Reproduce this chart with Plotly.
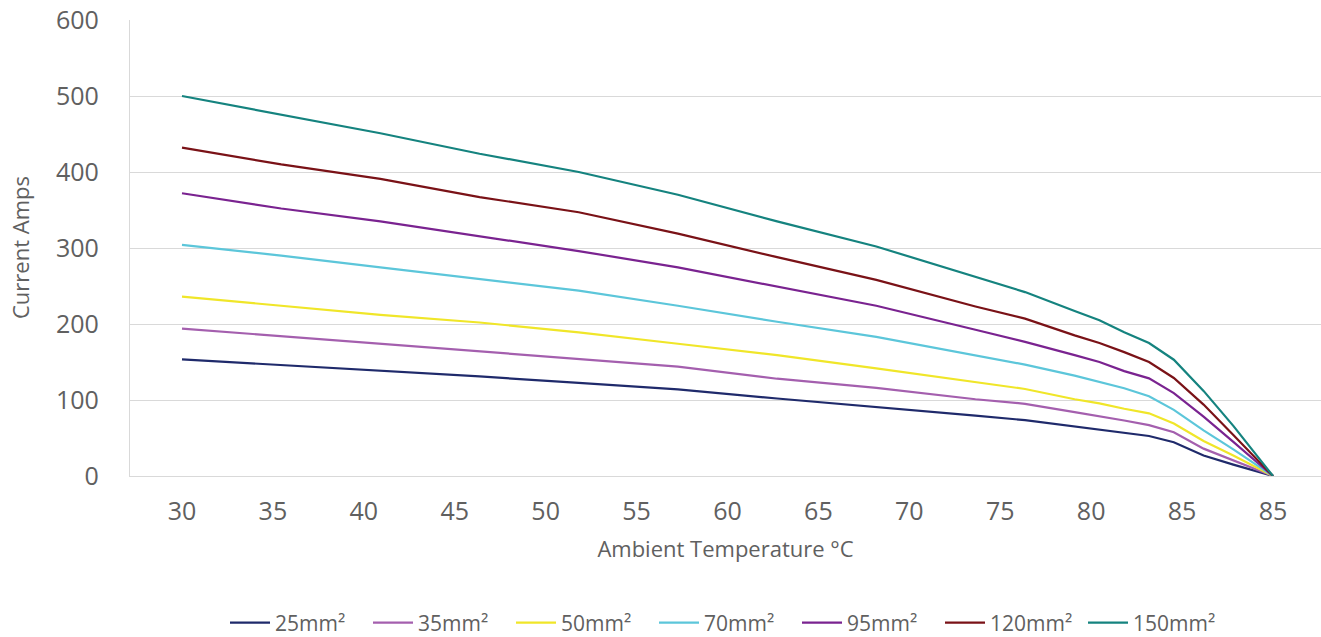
import plotly.graph_objects as go

# Ambient temperature of each reading (°C)
TEMPS = [30, 35, 40, 45, 50, 55, 60, 65, 70, 72.5, 75, 76.25, 77.5, 78.75, 80, 81.5, 83, 85]

# Current (A) per cable size
amps_25 = [153.5, 146, 138.5, 131, 122.5, 114, 102, 91, 79.5, 73.5, 65, 61, 56.5, 52.6, 44.5, 27, 15, 0]
amps_35 = [194, 184, 174, 164, 154, 144, 128, 116, 101, 95, 84, 79, 73, 67, 57.5, 36, 21, 0]
amps_50 = [236, 224, 212, 202, 189, 174, 159, 141.7, 123.5, 114.5, 101, 95.6, 88.5, 82.5, 69, 46, 27, 0]
amps_70 = [304, 290, 274.5, 259, 244, 224, 203, 183, 158, 146.5, 132, 124, 115.5, 105, 87, 60, 35, 0]
amps_95 = [372, 352, 335, 315, 296, 274.5, 249, 224, 192.5, 176.5, 159, 150, 138, 128.5, 109, 78, 45, 0]
amps_120 = [432, 410, 391, 367, 347, 319, 288, 258, 223, 207, 185, 175, 163, 150, 129, 94, 54, 0]
amps_150 = [500, 476, 451, 424, 400, 370, 335, 302, 262, 242, 217, 205, 189, 175, 153, 112, 66, 0]

SERIES_NAMES = ["25mm²", "35mm²", "50mm²", "70mm²", "95mm²", "120mm²", "150mm²"]
SERIES_VALUES = [amps_25, amps_35, amps_50, amps_70, amps_95, amps_120, amps_150]
COLORS = ["#1F2A6B", "#A45FAE", "#F0E629", "#5CC6DA", "#7A2390", "#7A1217", "#15837F"]

# Category labels shown along the x axis (as printed on the original)
TICK_LABELS = ["30", "35", "40", "45", "50", "55", "60", "65", "70", "75", "80", "85", "85"]
Y_TICKS = [0, 100, 200, 300, 400, 500, 600]

FONT = "Open Sans"
GREY = "#606060"
GRID = "#D9D9D9"

fig = go.Figure()
for name, vals, col in zip(SERIES_NAMES, SERIES_VALUES, COLORS):
    fig.add_trace(go.Scatter(
        x=TEMPS, y=vals, name=name, mode="lines",
        line=dict(color=col, width=2.2),
    ))

t0, t1 = TEMPS[0], TEMPS[-1]
n = len(TICK_LABELS) - 1
tickvals = [t0 + i * (t1 - t0) / n for i in range(n + 1)]
px_per_unit = (1273 - 182) / (t1 - t0)

W, H = 1321, 637
ML, MT, MB = 130, 20, 161
plot_h = H - MT - MB
plot_w = W - ML
x_left = t0 - 52 / px_per_unit
x_right = x_left + plot_w / px_per_unit

fig.update_layout(
    width=W, height=H,
    margin=dict(l=ML, r=0, t=MT, b=MB, autoexpand=False),
    paper_bgcolor="white", plot_bgcolor="white",
    font=dict(family=FONT, color=GREY, size=22),
    showlegend=True,
    legend=dict(
        orientation="h", x=0.5, xanchor="center", y=-(147 / plot_h), yanchor="middle",
        font=dict(size=21, color=GREY), itemwidth=40, tracegroupgap=0,
        entrywidth=88, entrywidthmode="pixels",
    ),
    xaxis=dict(
        range=[x_left, x_right],
        tickmode="array", tickvals=tickvals, ticktext=TICK_LABELS,
        showgrid=False, zeroline=False, automargin=False,
        showline=True, linecolor=GRID, linewidth=1.3,
        ticks="", ticklabelstandoff=13, ticklabeloverflow="allow",
        tickfont=dict(size=25, color=GREY),
        title=dict(text="Ambient Temperature °C", font=dict(size=22, color=GREY), standoff=15),
    ),
    yaxis=dict(
        range=[0, 600], tickmode="array", tickvals=Y_TICKS,
        showgrid=True, gridcolor=GRID, gridwidth=1.3,
        zeroline=False, showline=True, linecolor=GRID, linewidth=1.3,
        ticks="", ticklabelstandoff=25, automargin=False, ticklabeloverflow="allow",
        tickfont=dict(size=25, color=GREY),
    ),
    annotations=[dict(
        text="Current Amps", textangle=-90, showarrow=False,
        xref="paper", yref="paper", x=(20 - ML) / plot_w, y=(476 - 248) / plot_h,
        xanchor="center", yanchor="middle", font=dict(size=22, color=GREY),
    )],
)

fig.write_html(
    "out.html",
    config={"displayModeBar": False},
    post_script="document.body.style.margin='0';document.body.style.overflow='hidden';",
)
